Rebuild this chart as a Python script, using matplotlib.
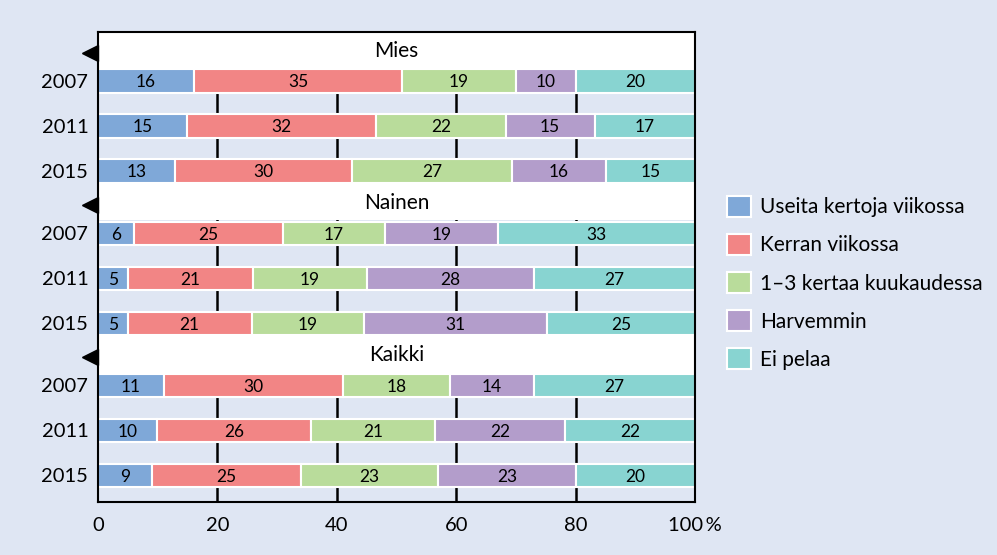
import matplotlib
matplotlib.use('Agg')
import matplotlib.pyplot as plt
from matplotlib.patches import Patch
import numpy as np

plt.rcParams['font.family'] = ['Lato', 'DejaVu Sans']

groups = ['Mies', 'Nainen', 'Kaikki']
years = ['2007', '2011', '2015']
categories = ['Useita kertoja viikossa', 'Kerran viikossa', '1–3 kertaa kuukaudessa',
              'Harvemmin', 'Ei pelaa']
colors = ['#7fa8d8', '#f28585', '#b9dc9b', '#b39dcb', '#88d4d1']

mies = [[16, 35, 19, 10, 20],
        [15, 32, 22, 15, 17],
        [13, 30, 27, 16, 15]]
nainen = [[6, 25, 17, 19, 33],
          [5, 21, 19, 28, 27],
          [5, 21, 19, 31, 25]]
kaikki = [[11, 30, 18, 14, 27],
          [10, 26, 21, 22, 22],
          [9, 25, 23, 23, 20]]
data = [mies, nainen, kaikki]

bg = '#dfe6f3'
stride = 3.38
first = 0.69
bar_h = 0.52

fig = plt.figure(figsize=(9.97, 5.55), dpi=100, facecolor=bg)
ax = fig.add_axes([98 / 997, 1 - 502 / 555, 597 / 997, 470 / 555])
ax.set_facecolor(bg)
ax.set_xlim(0, 100)
ax.set_ylim(10.04, -0.4)

for x in [20, 40, 60, 80]:
    ax.axvline(x, color='black', lw=1.8, zorder=1)

# white header bands
edge = bar_h / 2 + 0.025
ax.axhspan(-0.4, first - edge, color='white', lw=0, zorder=2)
for g in range(1, 3):
    ax.axhspan((g - 1) * stride + first + 2 + edge, g * stride + first - edge,
               color='white', lw=0, zorder=2)

ypos = []
for g, rows in enumerate(data):
    ax.text(50, g * stride + 0.02, groups[g], ha='center', va='center', fontsize=15, zorder=4)
    ax.plot(-1.4, g * stride + 0.06, marker='<', ms=12, color='black',
            clip_on=False, zorder=5)
    for i, row in enumerate(rows):
        y = g * stride + first + i
        ypos.append(y)
        vals = np.array(row, dtype=float)
        widths = vals / vals.sum() * 100
        lefts = np.concatenate([[0], np.cumsum(widths)[:-1]])
        ax.barh(y, widths, left=lefts, height=bar_h, color=colors,
                edgecolor='white', lw=1.5, zorder=3)
        for v, w, l in zip(row, widths, lefts):
            ax.text(l + w / 2, y + 0.03, str(v), ha='center', va='center',
                    fontsize=12.5, zorder=4)

ax.set_yticks(ypos)
ax.set_yticklabels(years * 3, fontsize=14.5)
ax.set_xticks([0, 20, 40, 60, 80, 100])
ax.set_xticklabels(['0', '20', '40', '60', '80', '100\u2009%'], fontsize=14.5)
ax.tick_params(axis='y', length=0, pad=7)
ax.tick_params(axis='x', length=0, pad=11)
for s in ax.spines.values():
    s.set_linewidth(1.5)
    s.set_zorder(6)

handles = [Patch(facecolor=c, edgecolor='white', lw=1.5) for c in colors]
fig.legend(handles, categories, loc='upper left',
           bbox_to_anchor=(727 / 997, 1 - 196 / 555), frameon=False,
           fontsize=15, handlelength=1.15, handleheight=1.15,
           handletextpad=0.45, labelspacing=0.8, borderpad=0, borderaxespad=0)

fig.savefig('out.png', dpi=100, facecolor=bg)
